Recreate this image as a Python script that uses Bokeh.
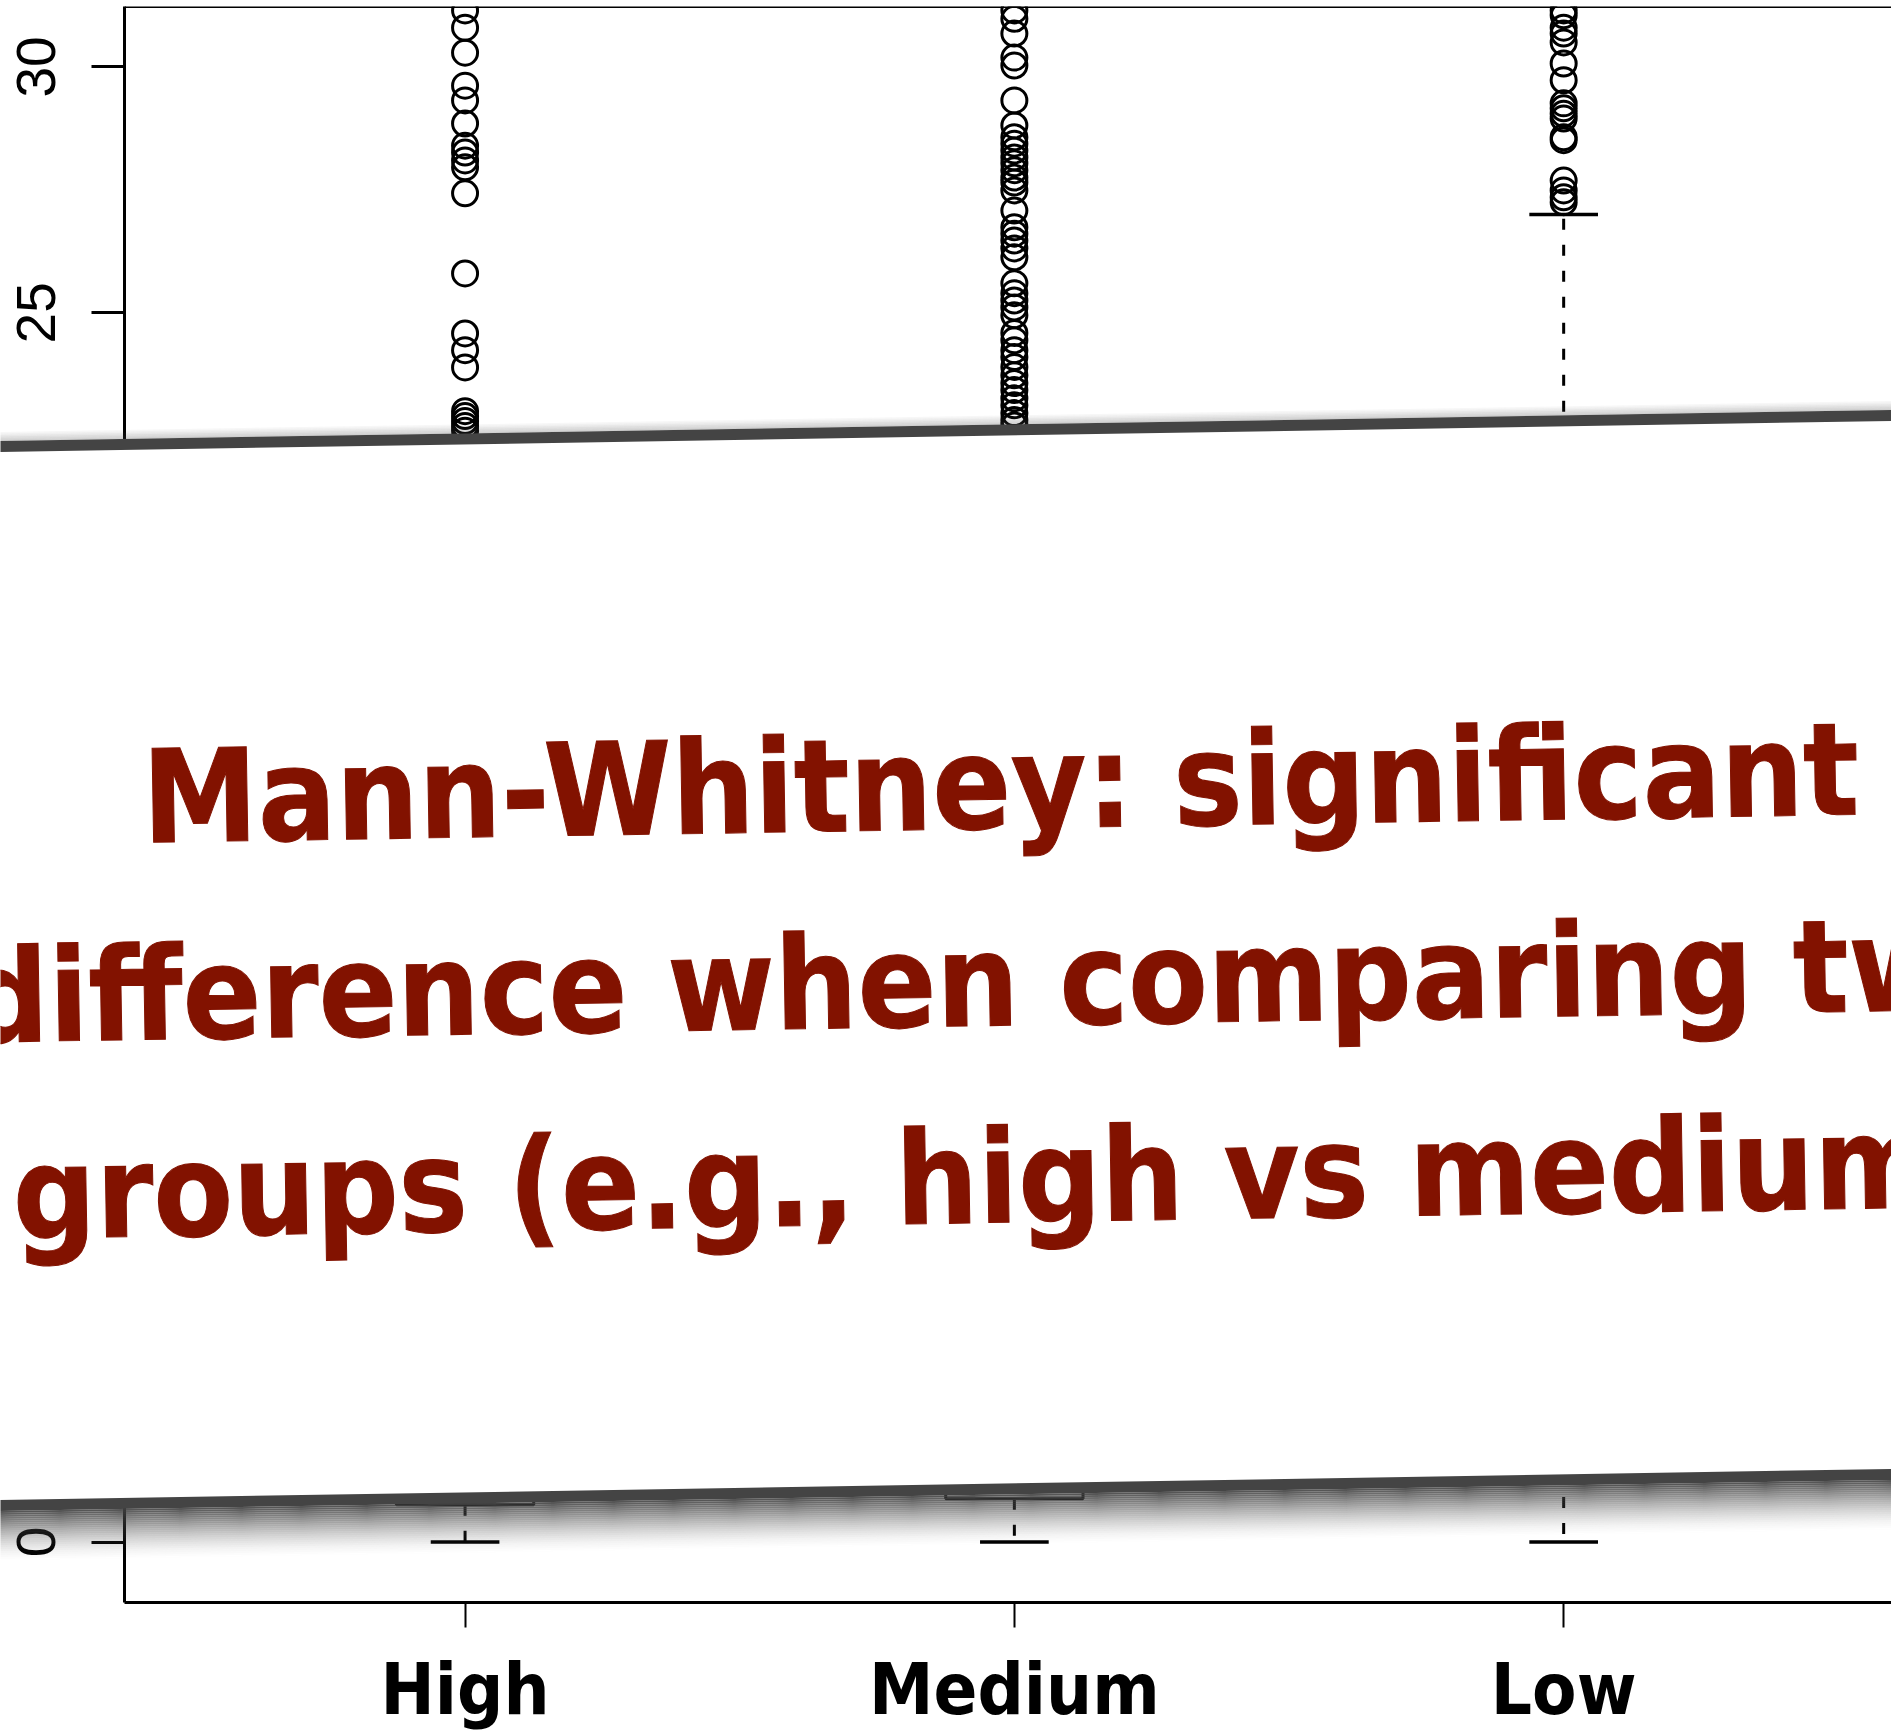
import numpy as np
from bokeh.plotting import figure
from bokeh.layouts import column
from bokeh.models import Range1d, FixedTicker, Span
from bokeh.core.properties import value
from bokeh.embed import file_html
from bokeh.resources import INLINE

# ---------------- data ----------------
categories = ["High", "Medium", "Low"]
positions = [1, 2, 3]
lower_whisker = [0.0, 0.0, 0.0]
q1 = [0.76, 0.88, 2.5]
median = [5.0, 5.5, 9.0]
q3 = [10.0, 10.5, 14.0]
upper_whisker = [21.5, 21.8, 27.0]

high_outliers = [31.15, 30.80, 30.29, 29.62, 29.32, 28.85, 28.40, 28.26, 28.10,
                 27.96, 27.43, 25.80, 24.58, 24.24, 23.89, 23.00, 22.90, 22.80,
                 22.70, 22.60]
medium_outliers = [31.15, 30.98, 30.68, 30.19, 30.03, 29.32, 28.81, 28.57, 28.44,
                   28.30, 28.16, 28.04, 27.90, 27.75, 27.65, 27.49, 27.08, 26.74,
                   26.61, 26.47, 26.31, 26.13, 25.60, 25.40, 25.25, 25.11, 24.95,
                   24.59, 24.44, 24.24, 24.10, 23.90, 23.73, 23.57, 23.43, 23.26,
                   23.12, 22.96, 22.82, 22.71]
low_outliers = [31.15, 31.05, 30.80, 30.68, 30.50, 30.07, 29.73, 29.26, 29.16,
                29.05, 28.95, 28.57, 28.51, 27.69, 27.49, 27.35, 27.25]

y_ticks = [0, 5, 10, 15, 20, 25, 30]
banner_lines = ["Mann-Whitney: significant",
                "difference when comparing two",
                "groups (e.g., high vs medium)"]

# ---------------- layout ----------------
W, H = 1891, 1733
LEFT, TOPB, BOTTOM = 124, 6, 130
X0, PX_PER_X = 0.38, 549.3
X1 = X0 + (W - LEFT) / PX_PER_X
PX_PER_Y = 49.2
ZERO_PX = 1542.5
FRAME_BOTTOM = H - BOTTOM
Y1 = (ZERO_PX - TOPB) / PX_PER_Y
Y0 = (ZERO_PX - FRAME_BOTTOM) / PX_PER_Y

p = figure(width=W, height=H, output_backend="svg", toolbar_location=None,
           title=None,
           x_range=Range1d(X0, X1), y_range=Range1d(Y0, Y1),
           min_border_left=LEFT, min_border_right=0, min_border_top=TOPB,
           min_border_bottom=BOTTOM)
p.frame_align = False
p.grid.visible = False
p.outline_line_color = None
p.background_fill_color = "white"
p.border_fill_color = "white"

# axes
p.xaxis.ticker = FixedTicker(ticks=positions)
p.xaxis.major_label_overrides = {pos: c for pos, c in zip(positions, categories)}
p.xaxis.major_label_text_font = "DejaVu Sans Condensed"
p.xaxis.major_label_text_font_style = "bold"
p.xaxis.major_label_text_font_size = "72px"
p.xaxis.major_label_text_color = "black"
p.xaxis.major_label_standoff = 19
p.xaxis.major_tick_out = 25
p.xaxis.major_tick_in = 0
p.xaxis.minor_tick_line_color = None
p.xaxis.axis_line_width = 3
p.xaxis.major_tick_line_width = 2

p.yaxis.ticker = FixedTicker(ticks=y_ticks)
p.yaxis.major_label_orientation = "vertical"
p.yaxis.major_label_text_font = "Liberation Sans"
p.yaxis.major_label_text_font_size = "55px"
p.yaxis.major_label_text_color = "black"
p.yaxis.major_label_standoff = 36
p.yaxis.major_tick_out = 33
p.yaxis.major_tick_in = 0
p.yaxis.minor_tick_line_color = None
p.yaxis.axis_line_width = 3
p.yaxis.major_tick_line_width = 3

p.add_layout(Span(location=Y1, dimension="width", line_color="black", line_width=3))

# ---------------- boxplot ----------------
BW = 0.125
SW = 0.0625
xs = np.array(positions, dtype=float)
p.quad(left=xs - BW, right=xs + BW, bottom=q1, top=q3,
       fill_color=None, line_color="black", line_width=3)
p.segment(x0=xs - BW, x1=xs + BW, y0=median, y1=median,
          line_color="black", line_width=7)
p.segment(x0=xs, x1=xs, y0=q3, y1=upper_whisker, line_color="black",
          line_width=3, line_dash="11 15")
p.segment(x0=xs, x1=xs, y0=q1, y1=lower_whisker, line_color="black",
          line_width=3, line_dash="11 15")
p.segment(x0=xs - SW, x1=xs + SW, y0=upper_whisker, y1=upper_whisker,
          line_color="black", line_width=3.5)
p.segment(x0=xs - SW, x1=xs + SW, y0=lower_whisker, y1=lower_whisker,
          line_color="black", line_width=3.5)

for pos, outs in zip(positions, [high_outliers, medium_outliers, low_outliers]):
    p.scatter(x=[pos] * len(outs), y=outs, marker="circle", size=25,
              fill_color=None, line_color="black", line_width=3)

# ---------------- banner overlay: a transparent full-canvas figure ----------------
ov = figure(width=W, height=H, output_backend="svg", toolbar_location=None,
            title=None, x_axis_type=None, y_axis_type=None,
            x_range=Range1d(0, W), y_range=Range1d(0, H),
            min_border=0, min_border_left=0, min_border_right=0,
            min_border_top=0, min_border_bottom=0)
ov.frame_align = False
ov.outline_line_color = None
ov.background_fill_color = None
ov.border_fill_color = None
ov.margin = (-H, 0, 0, 0)

SLOPE = 31.0 / 1891.0
TOP, BOT = 446.0, 1505.0
XA, XB = -60.0, 1960.0

band_xs, band_ys, band_colors, band_alphas = [], [], [], []

def band(y_a, y_b, color, alpha):
    # y_a, y_b are page pixel rows (downwards); overlay y runs upwards
    band_xs.append([XA, XB, XB, XA])
    band_ys.append([H - (y_a - SLOPE * XA), H - (y_a - SLOPE * XB),
                    H - (y_b - SLOPE * XB), H - (y_b - SLOPE * XA)])
    band_colors.append(color)
    band_alphas.append(alpha)

for i in range(6):
    band(TOP - 5.5 - (i + 1) * 1.5, TOP - 5.5 - i * 1.5, "#444444", 0.25 * (1 - i / 6))
N = 25
for i in range(N):
    band(BOT + 5.5 + i * 2.0, BOT + 5.5 + (i + 1) * 2.0, "#444444",
         0.9 * (1 - i / N) ** 1.6)
band(TOP, BOT, "#ffffff", 1.0)
band(TOP - 5.5, TOP + 5.5, "#444444", 1.0)
band(BOT - 5.5, BOT + 5.5, "#444444", 1.0)

ov.patches(xs=band_xs, ys=band_ys, fill_color=band_colors, fill_alpha=band_alphas,
           line_color=None)

ANCHORS = [783.0, 980.0, 1177.0]
CX = 1000.0
ov.text(x=[CX] * len(banner_lines), y=[H - b for b in ANCHORS], text=banner_lines,
        angle=SLOPE, text_align="center", text_baseline="alphabetic",
        text_font=value("DejaVu Sans Condensed"), text_font_style="bold",
        text_font_size="129px", text_color="#821200",
        text_outline_color="#821200")

layout = column(p, ov)
open("out.html", "w").write(file_html(layout, INLINE))
